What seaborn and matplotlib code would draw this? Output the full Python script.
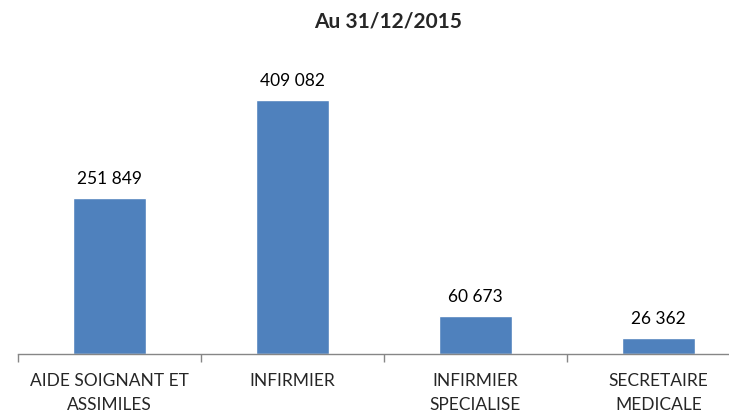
import matplotlib
matplotlib.use("Agg")
import matplotlib.pyplot as plt
import seaborn as sns
import pandas as pd
import numpy as np

# data
categories = ['AIDE SOIGNANT ET\nASSIMILES', 'INFIRMIER', 'INFIRMIER\nSPECIALISE', 'SECRETAIRE\nMEDICALE']
values = [251849, 409082, 60673, 26362]
value_labels = ['251 849', '409 082', '60 673', '26 362']
title = 'Au 31/12/2015'

sns.set_theme(style='white')
plt.rcParams['font.family'] = ['Lato', 'DejaVu Sans']

df = pd.DataFrame({'metier': categories, 'effectif': values})

fig = plt.figure(figsize=(7.29, 4.15), dpi=100)
ax = fig.add_axes([18 / 729, 61 / 415, 732 / 729, 279 / 415])

sns.barplot(data=df, x='metier', y='effectif', color='#4F81BD', saturation=1,
            width=0.4, ax=ax)

ax.set_ylim(0, 450000)
ax.set_xlim(-0.5, len(categories) - 0.5)

# value labels above bars
for i, (v, lab) in enumerate(zip(values, value_labels)):
    ax.annotate(lab, (i, v), xytext=(0, 8), textcoords='offset points',
                ha='center', va='bottom', fontsize=12.5, color='black')

for s in ['top', 'right', 'left']:
    ax.spines[s].set_visible(False)
ax.spines['bottom'].set_color('#868686')
ax.spines['bottom'].set_linewidth(1)

ax.set_yticks([])
ax.set_xlabel('')
ax.set_ylabel('')
ax.set_xticks(np.arange(len(categories)))
ax.set_xticklabels(categories, fontsize=12.5, linespacing=1.55)
ax.set_xticks(np.arange(len(categories) + 1) - 0.5, minor=True)
ax.tick_params(axis='x', which='major', length=0, pad=14)
ax.tick_params(axis='x', which='minor', length=6, width=1, color='#868686',
               direction='out', bottom=True)

fig.text(388 / 729, 1 - 21 / 415, title, ha='center', va='center',
         fontsize=15, fontweight='bold')

fig.savefig('out.png', dpi=100)
